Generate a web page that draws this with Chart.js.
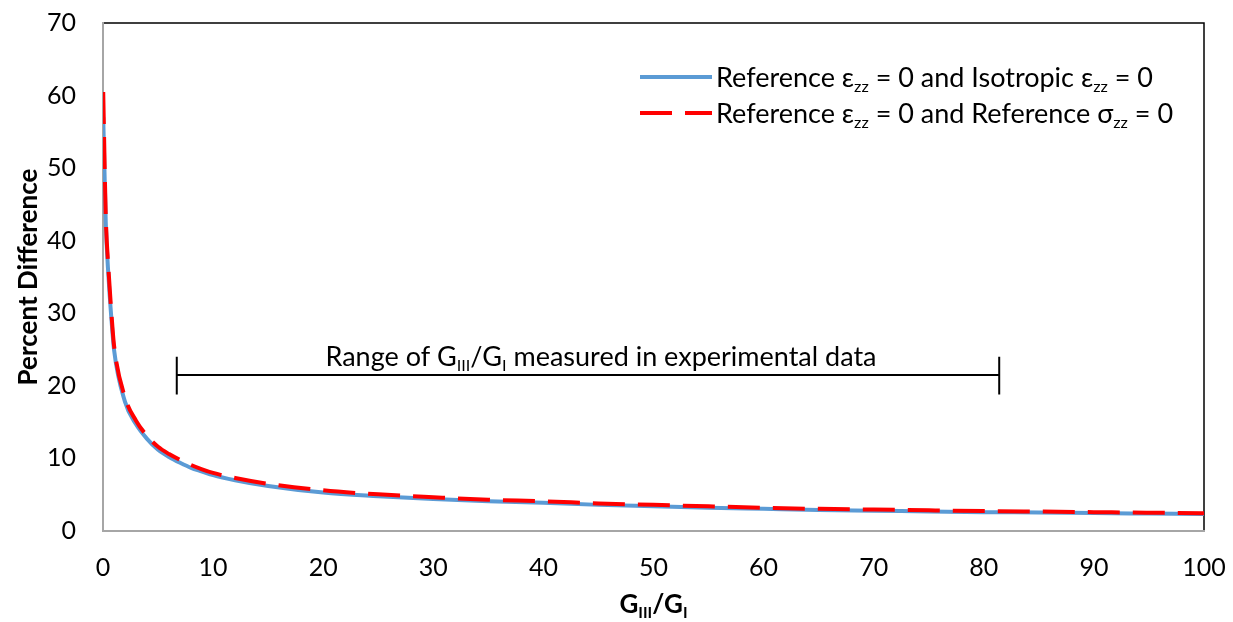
<!DOCTYPE html>
<html>
<head>
<meta charset="utf-8">
<script src="https://cdn.jsdelivr.net/npm/chart.js@4"></script>
<style>
  html, body { margin: 0; padding: 0; background: #fff; }
  #wrap { width: 1233px; height: 622px; }
</style>
</head>
<body>
<div id="wrap"><canvas id="chart" width="1233" height="622"></canvas></div>
<script>
// G_III/G_I ratio (x) and percent difference for the two comparisons
var ratio = [0.02, 0.25, 0.5, 0.75, 1, 2, 3, 4, 5, 6, 7, 8, 9, 10, 12, 15, 20, 25, 30, 35, 40, 45, 50, 55, 60, 65, 70, 75, 80, 85, 90, 95, 100];
var isoDiff = [57, 42.5, 35, 29.5, 25, 17.8, 14.7, 12.7, 11.2, 10.2, 9.4, 8.7, 8.2, 7.7, 7.0, 6.2, 5.3, 4.8, 4.4, 4.1, 3.9, 3.6, 3.4, 3.2, 3.05, 2.9, 2.8, 2.7, 2.6, 2.55, 2.47, 2.4, 2.33];
var sigmaDiff = [60.5, 43.5, 36, 30.3, 25.6, 18.4, 15.2, 13.1, 11.6, 10.6, 9.8, 9.1, 8.5, 8.0, 7.3, 6.5, 5.6, 5.05, 4.65, 4.3, 4.1, 3.8, 3.6, 3.4, 3.2, 3.05, 2.95, 2.85, 2.75, 2.68, 2.6, 2.52, 2.45];

var xTicks = [0, 10, 20, 30, 40, 50, 60, 70, 80, 90, 100];
var yTicks = [0, 10, 20, 30, 40, 50, 60, 70];

// experimental range bracket: [start, end] on x, level and cap extent on y
var rangeX = [6.7, 81.4];
var rangeY = 21.5;
var rangeCap = [18.8, 24];

var FONT = "Lato, 'Open Sans', sans-serif";
var DASH = [32, 13];

function pts(xs, ys) {
  return xs.map(function (x, i) { return {x: x, y: ys[i]}; });
}

// draw text with subscript parts, e.g. [["Reference ε"],["zz",1],[" = 0"]]
function richText(ctx, parts, x, y, size, bold, align) {
  var w = 0;
  parts.forEach(function (p) {
    ctx.font = (bold ? "bold " : "") + (p[1] ? size * 0.6 : size) + "px " + FONT;
    w += ctx.measureText(p[0]).width;
  });
  var cx = align === "center" ? x - w / 2 : x;
  ctx.textBaseline = "alphabetic";
  ctx.textAlign = "left";
  parts.forEach(function (p) {
    ctx.font = (bold ? "bold " : "") + (p[1] ? size * 0.6 : size) + "px " + FONT;
    ctx.fillText(p[0], cx, p[1] ? y + size * 0.2 : y);
    cx += ctx.measureText(p[0]).width;
  });
}

var legendItems = [
  {parts: [["Reference ε"], ["zz", 1], [" = 0 and Isotropic ε"], ["zz", 1], [" = 0"]], color: "#5B9BD5", dash: []},
  {parts: [["Reference ε"], ["zz", 1], [" = 0 and Reference σ"], ["zz", 1], [" = 0"]], color: "#FF0000", dash: DASH}
];

var extras = {
  id: "extras",
  beforeDraw: function (chart) {
    var a = chart.chartArea, ctx = chart.ctx;
    ctx.save();
    ctx.strokeStyle = "#000";
    ctx.lineWidth = 1.5;
    ctx.strokeRect(a.left, a.top, a.right - a.left, a.bottom - a.top);
    ctx.restore();
  },
  afterDraw: function (chart) {
    var ctx = chart.ctx, xs = chart.scales.x, ys = chart.scales.y, a = chart.chartArea;
    ctx.save();
    ctx.fillStyle = "#000";

    // bracket
    var x1 = xs.getPixelForValue(rangeX[0]), x2 = xs.getPixelForValue(rangeX[1]);
    var yl = ys.getPixelForValue(rangeY);
    ctx.strokeStyle = "#000";
    ctx.lineWidth = 2;
    ctx.beginPath();
    ctx.moveTo(x1, yl); ctx.lineTo(x2, yl);
    ctx.moveTo(x1, ys.getPixelForValue(rangeCap[0])); ctx.lineTo(x1, ys.getPixelForValue(rangeCap[1]));
    ctx.moveTo(x2, ys.getPixelForValue(rangeCap[0])); ctx.lineTo(x2, ys.getPixelForValue(rangeCap[1]));
    ctx.stroke();
    richText(ctx, [["Range of G"], ["III", 1], ["/G"], ["I", 1], [" measured in experimental data"]],
      (x1 + x2) / 2 + 13, yl - 9, 27, false, "center");

    // legend
    legendItems.forEach(function (it, i) {
      var ly = 77 + i * 36;
      ctx.strokeStyle = it.color;
      ctx.lineWidth = 4;
      ctx.setLineDash(it.dash);
      ctx.beginPath();
      ctx.moveTo(640, ly); ctx.lineTo(712, ly);
      ctx.stroke();
      ctx.setLineDash([]);
      richText(ctx, it.parts, 716, ly + 10, 27, false, "left");
    });

    // axis titles
    richText(ctx, [["G"], ["III", 1], ["/G"], ["I", 1]], (a.left + a.right) / 2, 613, 26, true, "center");
    ctx.translate(37, (a.top + a.bottom) / 2);
    ctx.rotate(-Math.PI / 2);
    ctx.font = "bold 26px " + FONT;
    ctx.textAlign = "center";
    ctx.textBaseline = "alphabetic";
    ctx.fillText("Percent Difference", 0, 0);
    ctx.restore();
  }
};

var chart = new Chart("chart", {
  type: "line",
  data: {
    datasets: [
      {
        label: "Reference εzz = 0 and Isotropic εzz = 0",
        data: pts(ratio, isoDiff),
        borderColor: "#5B9BD5",
        borderWidth: 4,
        pointRadius: 0,
        cubicInterpolationMode: "monotone",
        order: 1
      },
      {
        label: "Reference εzz = 0 and Reference σzz = 0",
        data: pts(ratio, sigmaDiff),
        borderColor: "#FF0000",
        borderWidth: 4,
        borderDash: DASH,
        pointRadius: 0,
        cubicInterpolationMode: "monotone",
        order: 0
      }
    ]
  },
  options: {
    responsive: false,
    animation: false,
    layout: {padding: {top: 23, right: 29, left: 0, bottom: 0}},
    plugins: {legend: {display: false}, tooltip: {enabled: false}},
    scales: {
      x: {
        type: "linear",
        min: 0, max: 100,
        afterBuildTicks: function (s) { s.ticks = xTicks.map(function (v) { return {value: v}; }); },
        afterFit: function (s) { s.height = 91; },
        // invisible tick marks give the label gap (ticks.padding would also pad the plot edges)
        grid: {display: false, drawTicks: true, tickLength: 22},
        border: {display: true, color: "#A6A6A6", width: 2},
        ticks: {color: "#000", font: {size: 25, family: FONT}, padding: 0, maxRotation: 0}
      },
      y: {
        min: 0, max: 70,
        afterBuildTicks: function (s) { s.ticks = yTicks.map(function (v) { return {value: v}; }); },
        afterFit: function (s) { s.width = 103; },
        grid: {display: false, drawTicks: true, tickLength: 27},
        border: {display: true, color: "#A6A6A6", width: 2},
        ticks: {color: "#000", font: {size: 25, family: FONT}, padding: 0}
      }
    }
  },
  plugins: [extras]
});
</script>
</body>
</html>
